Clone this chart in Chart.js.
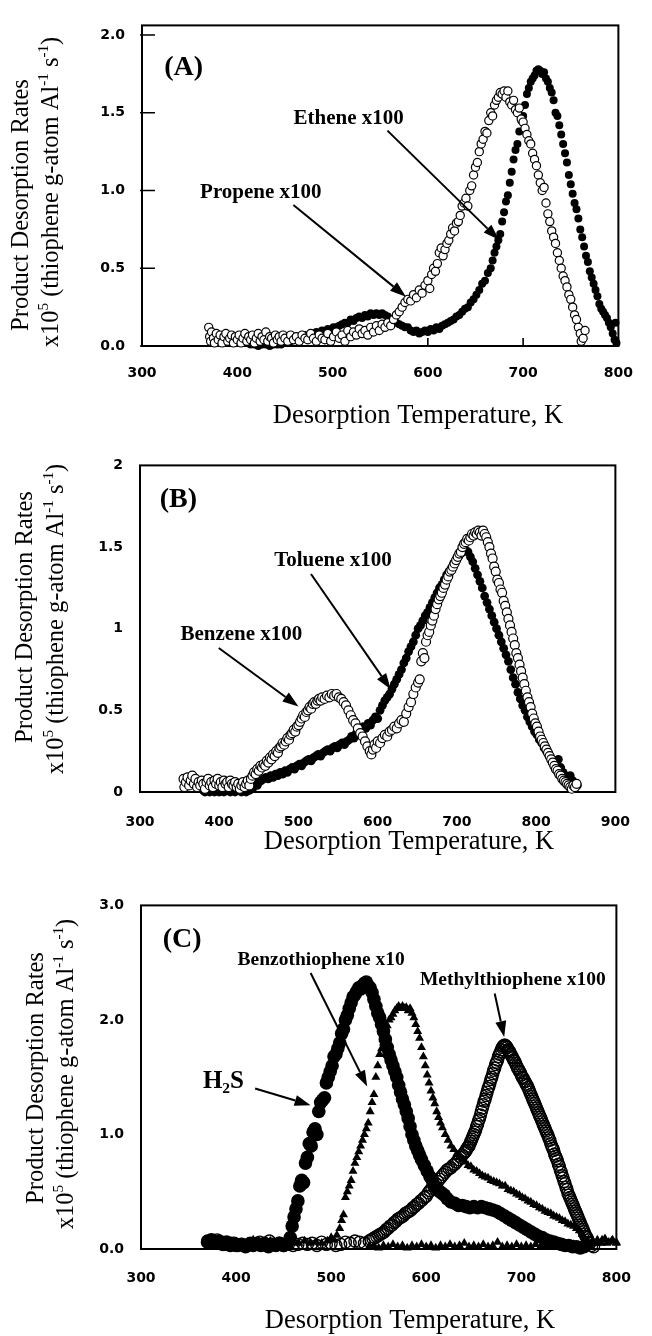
<!DOCTYPE html>
<html><head><meta charset="utf-8">
<script src="https://cdn.jsdelivr.net/npm/chart.js@4.4.0/dist/chart.umd.min.js"></script>
<style>
html,body{margin:0;padding:0;background:#fff;}
body{width:652px;height:1336px;position:relative;overflow:hidden;}
canvas{position:absolute;left:0;}
</style></head><body>
<canvas id="cA" width="652" height="440" style="top:0;width:652px;height:440px"></canvas>
<canvas id="cB" width="652" height="440" style="top:440px;width:652px;height:440px"></canvas>
<canvas id="cC" width="652" height="456" style="top:880px;width:652px;height:456px"></canvas>
<script>
// ---------- DATA ----------
// Panel A
const xTicksA = [300,400,500,600,700,800];
const xLabelsA = ['300','400','500','600','700','800'];
const yTicksA = [0,0.5,1,1.5,2];
const yLabelsA = ['0.0','0.5','1.0','1.5','2.0'];
const propene = [[370,0.12],[371,0.06],[372,0.03],[373,0.09],[375,0.05],[376,0.02],[378,0.08],[380,0.04],[382,0.07],[384,0.02],[386,0.06],[388,0.08],[390,0.03],[392,0.05],[394,0.07],[396,0.02],[398,0.06],[400,0.04],[402,0.07],[404,0.02],[406,0.05],[408,0.08],[410,0.03],[412,0.06],[414,0.04],[416,0.07],[418,0.02],[420,0.05],[422,0.08],[424,0.03],[426,0.06],[428,0.04],[430,0.09],[432,0.03],[434,0.06],[436,0.05],[438,0.02],[440,0.07],[442,0.04],[444,0.06],[446,0.03],[448,0.07],[450,0.05],[453,0.03],[456,0.07],[459,0.04],[462,0.06],[465,0.03],[468,0.07],[471,0.05],[474,0.04],[477,0.08],[480,0.05],[483,0.03],[486,0.07],[489,0.05],[492,0.04],[495,0.08],[498,0.03],[501,0.06],[504,0.09],[507,0.05],[510,0.07],[513,0.03],[516,0.1],[519,0.06],[522,0.09],[525,0.07],[528,0.11],[531,0.08],[534,0.1],[537,0.07],[540,0.12],[543,0.09],[546,0.13],[549,0.1],[552,0.14],[555,0.12],[558,0.15],[561,0.13],[564,0.17],[567,0.2],[570,0.22],[573,0.25],[576,0.28],[579,0.3],[582,0.29],[585,0.33],[588,0.31],[591,0.36],[594,0.34],[597,0.39],[600,0.42],[602,0.37],[604,0.46],[606,0.5],[608,0.48],[610,0.53],[612,0.6],[614,0.63],[616,0.58],[618,0.62],[620,0.66],[622,0.68],[624,0.72],[626,0.76],[628,0.74],[630,0.79],[632,0.8],[634,0.84],[636,0.9],[638,0.92],[640,0.95],[642,0.9],[644,1.0],[646,1.03],[648,1.1],[650,1.15],[652,1.18],[654,1.25],[656,1.3],[658,1.33],[660,1.38],[662,1.37],[664,1.45],[666,1.5],[668,1.48],[670,1.55],[672,1.58],[674,1.6],[676,1.63],[678,1.62],[680,1.64],[682,1.6],[684,1.64],[686,1.57],[688,1.55],[690,1.58],[692,1.52],[694,1.5],[696,1.53],[698,1.46],[700,1.44],[702,1.4],[704,1.36],[706,1.32],[708,1.3],[710,1.24],[712,1.2],[714,1.16],[716,1.1],[718,1.05],[720,1.0],[722,1.02],[724,0.92],[726,0.85],[728,0.8],[730,0.74],[732,0.7],[734,0.66],[736,0.6],[738,0.55],[740,0.5],[742,0.45],[744,0.42],[746,0.38],[748,0.33],[750,0.3],[752,0.25],[754,0.2],[756,0.17],[758,0.12],[760,0.08],[761,0.03],[763,0.05],[765,0.1]];
const ethene = [[412,0.02],[414,0.01],[416,0.03],[418,0.01],[420,0.02],[422,0.0],[424,0.02],[426,0.01],[428,0.03],[430,0.01],[432,0.02],[434,0.0],[436,0.02],[438,0.01],[440,0.03],[442,0.01],[444,0.02],[446,0.01],[448,0.03],[450,0.02],[453,0.04],[456,0.03],[459,0.05],[462,0.04],[465,0.06],[468,0.05],[471,0.07],[474,0.06],[477,0.08],[480,0.07],[483,0.09],[486,0.08],[489,0.1],[492,0.09],[495,0.11],[498,0.1],[501,0.12],[504,0.12],[507,0.13],[510,0.14],[513,0.15],[516,0.15],[519,0.17],[522,0.16],[525,0.18],[528,0.19],[531,0.18],[534,0.2],[537,0.19],[540,0.21],[543,0.2],[546,0.21],[549,0.2],[552,0.21],[555,0.2],[558,0.19],[561,0.17],[564,0.16],[567,0.15],[570,0.14],[573,0.13],[576,0.12],[579,0.12],[582,0.1],[585,0.09],[588,0.1],[591,0.08],[594,0.09],[597,0.1],[600,0.09],[603,0.11],[606,0.1],[609,0.12],[612,0.11],[615,0.13],[618,0.14],[621,0.15],[624,0.16],[627,0.17],[630,0.19],[633,0.2],[636,0.22],[639,0.24],[642,0.25],[645,0.28],[648,0.3],[651,0.33],[654,0.36],[657,0.4],[660,0.42],[663,0.47],[666,0.5],[668,0.55],[670,0.6],[672,0.64],[674,0.68],[676,0.72],[678,0.8],[680,0.86],[682,0.93],[684,0.97],[686,1.05],[688,1.12],[690,1.2],[692,1.26],[694,1.3],[696,1.38],[698,1.45],[700,1.48],[702,1.55],[704,1.62],[706,1.66],[708,1.7],[710,1.72],[712,1.74],[714,1.77],[716,1.78],[718,1.77],[720,1.75],[722,1.76],[724,1.72],[726,1.7],[728,1.66],[730,1.63],[732,1.58],[734,1.5],[736,1.48],[738,1.42],[740,1.36],[742,1.3],[744,1.24],[746,1.18],[748,1.1],[750,1.04],[752,0.98],[754,0.92],[756,0.88],[758,0.82],[760,0.75],[762,0.7],[764,0.64],[766,0.58],[768,0.54],[770,0.48],[772,0.44],[774,0.4],[776,0.36],[778,0.32],[780,0.27],[782,0.24],[784,0.22],[786,0.2],[788,0.18],[790,0.15],[792,0.12],[794,0.08],[796,0.04],[797,0.15],[798,0.02]];

// Panel B
const xTicksB = [300,400,500,600,700,800,900];
const xLabelsB = ['300','400','500','600','700','800','900'];
const yTicksB = [0,0.5,1,1.5,2];
const yLabelsB = ['0','0.5','1','1.5','2'];
const benzene = [[355,0.08],[356,0.03],[358,0.06],[360,0.09],[362,0.04],[364,0.07],[366,0.1],[368,0.05],[370,0.08],[372,0.03],[374,0.06],[376,0.04],[378,0.07],[380,0.05],[382,0.02],[384,0.06],[386,0.08],[388,0.04],[390,0.06],[392,0.03],[394,0.07],[396,0.05],[398,0.08],[400,0.04],[402,0.06],[404,0.03],[406,0.07],[408,0.05],[410,0.06],[412,0.03],[414,0.07],[416,0.05],[418,0.04],[420,0.06],[422,0.03],[424,0.05],[426,0.02],[428,0.04],[430,0.06],[432,0.03],[434,0.05],[436,0.07],[438,0.04],[440,0.08],[442,0.1],[444,0.12],[446,0.11],[448,0.14],[450,0.13],[452,0.16],[454,0.15],[456,0.17],[458,0.16],[460,0.19],[462,0.18],[464,0.21],[466,0.2],[468,0.23],[470,0.22],[472,0.25],[474,0.24],[476,0.27],[478,0.28],[480,0.3],[482,0.29],[484,0.31],[486,0.33],[488,0.32],[490,0.35],[492,0.36],[494,0.38],[496,0.37],[498,0.4],[500,0.41],[502,0.43],[504,0.45],[506,0.47],[508,0.46],[510,0.49],[512,0.5],[514,0.52],[516,0.51],[518,0.54],[520,0.55],[522,0.54],[524,0.56],[526,0.57],[528,0.56],[530,0.58],[533,0.57],[536,0.59],[539,0.58],[542,0.6],[545,0.59],[548,0.6],[551,0.58],[554,0.57],[557,0.55],[560,0.53],[563,0.5],[566,0.47],[569,0.44],[572,0.42],[575,0.39],[578,0.36],[581,0.34],[584,0.31],[587,0.28],[590,0.25],[592,0.23],[594,0.26],[596,0.29],[598,0.27],[600,0.31],[603,0.3],[606,0.33],[609,0.35],[612,0.34],[615,0.37],[618,0.38],[621,0.4],[624,0.39],[627,0.42],[630,0.44],[633,0.43],[636,0.48],[639,0.52],[642,0.55],[645,0.6],[648,0.64],[651,0.67],[653,0.69],[655,0.8],[657,0.85],[659,0.82],[661,0.92],[663,0.96],[665,0.98],[667,1.02],[669,1.05],[671,1.08],[673,1.12],[675,1.15],[677,1.18],[679,1.2],[681,1.22],[683,1.25],[685,1.27],[687,1.3],[689,1.32],[691,1.35],[693,1.36],[695,1.38],[697,1.4],[699,1.42],[701,1.44],[703,1.46],[705,1.47],[707,1.5],[709,1.52],[711,1.53],[713,1.55],[715,1.54],[717,1.56],[719,1.58],[721,1.57],[723,1.59],[725,1.58],[727,1.6],[729,1.59],[731,1.57],[733,1.6],[735,1.58],[737,1.56],[739,1.53],[741,1.5],[743,1.46],[745,1.43],[747,1.38],[749,1.35],[751,1.3],[753,1.28],[755,1.24],[757,1.22],[759,1.17],[761,1.14],[763,1.1],[765,1.06],[767,1.02],[769,0.98],[771,0.94],[773,0.9],[775,0.85],[777,0.82],[779,0.78],[781,0.74],[783,0.7],[785,0.66],[787,0.62],[789,0.58],[791,0.55],[793,0.52],[795,0.48],[797,0.45],[799,0.42],[801,0.4],[803,0.37],[805,0.34],[807,0.32],[809,0.3],[811,0.28],[813,0.26],[815,0.24],[817,0.22],[819,0.2],[821,0.18],[823,0.16],[825,0.14],[827,0.13],[829,0.11],[831,0.1],[833,0.08],[835,0.07],[837,0.06],[839,0.05],[841,0.04],[843,0.03],[845,0.02],[847,0.04],[849,0.03],[851,0.05]];
const toluene = [[380,0.01],[382,0.0],[384,0.02],[386,0.01],[388,0.0],[390,0.02],[392,0.01],[394,0.0],[396,0.01],[398,0.02],[400,0.0],[402,0.01],[404,0.02],[406,0.0],[408,0.01],[410,0.02],[412,0.01],[414,0.0],[416,0.02],[418,0.01],[420,0.0],[422,0.01],[424,0.02],[426,0.01],[428,0.0],[430,0.02],[432,0.01],[434,0.0],[436,0.02],[438,0.01],[440,0.03],[442,0.02],[444,0.04],[446,0.05],[448,0.04],[450,0.06],[453,0.07],[456,0.08],[459,0.09],[462,0.08],[465,0.1],[468,0.09],[471,0.11],[474,0.1],[477,0.12],[480,0.11],[483,0.13],[486,0.12],[489,0.14],[492,0.15],[495,0.14],[498,0.16],[501,0.17],[504,0.16],[507,0.18],[510,0.19],[513,0.2],[516,0.19],[519,0.21],[522,0.22],[525,0.23],[528,0.22],[531,0.24],[534,0.25],[537,0.26],[540,0.25],[543,0.27],[546,0.28],[549,0.27],[552,0.29],[555,0.3],[558,0.29],[561,0.31],[564,0.32],[567,0.34],[570,0.33],[573,0.36],[576,0.35],[579,0.38],[582,0.4],[585,0.39],[588,0.42],[591,0.41],[594,0.44],[597,0.46],[600,0.45],[603,0.5],[606,0.53],[609,0.56],[612,0.58],[615,0.6],[618,0.63],[621,0.66],[624,0.69],[627,0.72],[630,0.75],[633,0.79],[636,0.82],[639,0.86],[642,0.89],[645,0.92],[648,0.96],[651,1.0],[654,1.02],[657,1.05],[660,1.08],[663,1.1],[666,1.13],[669,1.16],[672,1.19],[675,1.22],[678,1.25],[681,1.27],[684,1.3],[687,1.33],[690,1.35],[693,1.37],[696,1.4],[699,1.42],[702,1.44],[705,1.46],[708,1.47],[711,1.48],[714,1.47],[717,1.44],[720,1.41],[723,1.37],[726,1.33],[729,1.29],[732,1.25],[735,1.2],[738,1.16],[741,1.12],[744,1.08],[747,1.04],[750,1.0],[753,0.96],[756,0.92],[759,0.88],[762,0.84],[765,0.8],[768,0.75],[771,0.7],[774,0.66],[777,0.61],[780,0.57],[783,0.53],[786,0.5],[789,0.46],[792,0.43],[795,0.4],[798,0.37],[801,0.35],[804,0.32],[807,0.3],[810,0.27],[813,0.25],[816,0.23],[819,0.2],[822,0.19],[825,0.18],[828,0.2],[831,0.15],[834,0.12],[837,0.1],[840,0.09],[843,0.1],[846,0.07],[849,0.05],[852,0.04]];

// Panel C
const xTicksC = [300,400,500,600,700,800];
const xLabelsC = ['300','400','500','600','700','800'];
const yTicksC = [0,1,2,3];
const yLabelsC = ['0.0','1.0','2.0','3.0'];
const h2s = [[370,0.06],[374,0.08],[378,0.05],[382,0.07],[386,0.04],[390,0.06],[394,0.03],[398,0.05],[402,0.03],[406,0.04],[410,0.02],[414,0.04],[418,0.03],[422,0.05],[426,0.03],[430,0.04],[434,0.02],[438,0.04],[442,0.03],[446,0.05],[450,0.03],[454,0.05],[457,0.1],[459,0.2],[461,0.28],[463,0.35],[465,0.42],[467,0.55],[469,0.6],[471,0.58],[473,0.75],[475,0.8],[477,0.92],[479,0.9],[481,1.02],[483,1.05],[485,1.0],[487,1.2],[489,1.28],[491,1.3],[493,1.32],[495,1.45],[497,1.5],[499,1.55],[501,1.6],[503,1.68],[505,1.7],[507,1.75],[509,1.8],[511,1.88],[513,1.92],[515,2.0],[517,2.04],[519,2.1],[521,2.15],[523,2.2],[525,2.22],[527,2.25],[529,2.28],[531,2.27],[533,2.3],[535,2.32],[537,2.33],[539,2.3],[541,2.28],[543,2.24],[545,2.18],[547,2.12],[549,2.06],[551,2.02],[553,1.96],[555,1.9],[557,1.83],[559,1.76],[561,1.7],[563,1.65],[565,1.6],[567,1.55],[569,1.5],[571,1.43],[573,1.37],[575,1.31],[577,1.26],[579,1.2],[581,1.14],[583,1.07],[585,1.0],[587,0.95],[589,0.9],[591,0.86],[593,0.82],[595,0.78],[598,0.73],[601,0.68],[604,0.63],[607,0.58],[610,0.54],[613,0.51],[616,0.49],[619,0.47],[622,0.44],[626,0.41],[630,0.4],[634,0.38],[638,0.38],[642,0.37],[646,0.36],[650,0.37],[654,0.36],[658,0.37],[662,0.36],[666,0.35],[670,0.34],[674,0.33],[678,0.31],[682,0.29],[686,0.27],[690,0.25],[694,0.23],[698,0.21],[702,0.19],[706,0.17],[710,0.15],[714,0.13],[718,0.11],[722,0.1],[726,0.08],[730,0.07],[734,0.06],[738,0.05],[742,0.04],[746,0.03],[750,0.03],[754,0.02],[758,0.02],[762,0.01],[766,0.02]];
const benzothiophene = [[370,0.05],[376,0.03],[382,0.06],[388,0.04],[394,0.03],[400,0.05],[406,0.04],[412,0.06],[418,0.08],[424,0.05],[430,0.04],[436,0.07],[442,0.05],[448,0.06],[454,0.04],[460,0.06],[466,0.05],[472,0.07],[478,0.05],[484,0.06],[490,0.05],[496,0.07],[500,0.1],[503,0.08],[506,0.12],[509,0.18],[511,0.25],[513,0.3],[515,0.45],[517,0.5],[519,0.55],[521,0.6],[523,0.68],[525,0.75],[527,0.8],[529,0.85],[531,0.9],[533,0.95],[535,1.0],[537,1.05],[539,1.1],[541,1.2],[543,1.28],[545,1.35],[547,1.5],[549,1.6],[551,1.7],[553,1.75],[555,1.8],[557,1.88],[559,1.95],[561,2.0],[563,2.02],[565,2.05],[567,2.08],[569,2.1],[571,2.12],[573,2.1],[575,2.12],[577,2.1],[579,2.11],[581,2.08],[583,2.1],[585,2.06],[587,2.02],[589,1.96],[591,1.9],[593,1.84],[595,1.76],[597,1.68],[599,1.6],[601,1.52],[603,1.45],[605,1.38],[607,1.32],[609,1.27],[611,1.2],[613,1.15],[615,1.1],[617,1.06],[620,1.0],[623,0.95],[626,0.9],[629,0.87],[632,0.83],[635,0.8],[638,0.78],[641,0.76],[644,0.73],[647,0.72],[650,0.69],[653,0.68],[656,0.66],[659,0.64],[662,0.63],[665,0.62],[668,0.6],[671,0.59],[674,0.58],[677,0.57],[680,0.55],[683,0.55],[686,0.52],[689,0.51],[692,0.5],[695,0.48],[698,0.47],[701,0.45],[704,0.44],[707,0.42],[710,0.41],[713,0.39],[716,0.38],[719,0.36],[722,0.35],[725,0.33],[728,0.32],[731,0.31],[734,0.29],[737,0.28],[740,0.27],[743,0.25],[746,0.24],[749,0.22],[752,0.21],[755,0.2],[758,0.18],[761,0.16],[764,0.13],[767,0.09],[770,0.05],[773,0.02],[776,0.05],[780,0.08],[784,0.05],[788,0.09],[792,0.06],[796,0.08],[800,0.05]];
const benzothiopheneLow = [[540,0.02],[545,0.03],[550,0.01],[555,0.03],[560,0.02],[565,0.04],[570,0.02],[575,0.03],[580,0.01],[585,0.03],[590,0.02],[595,0.04],[600,0.02],[605,0.03],[610,0.01],[615,0.03],[620,0.02],[625,0.04],[630,0.02],[635,0.03],[640,0.05],[645,0.02],[650,0.03],[655,0.02],[660,0.04],[665,0.02],[670,0.03],[675,0.06],[680,0.02],[685,0.03],[690,0.02],[695,0.04],[700,0.02],[705,0.03],[710,0.02],[715,0.04],[720,0.02],[725,0.03],[730,0.02],[735,0.04],[740,0.02],[745,0.03],[750,0.02],[755,0.04],[760,0.03],[765,0.05],[770,0.04],[775,0.07],[780,0.05],[785,0.08],[790,0.05],[795,0.07],[800,0.06]];
const methylthiophene = [[370,0.07],[375,0.05],[380,0.08],[385,0.06],[390,0.04],[395,0.05],[400,0.03],[405,0.04],[410,0.03],[415,0.05],[420,0.04],[425,0.06],[430,0.05],[435,0.07],[440,0.04],[445,0.05],[450,0.03],[455,0.04],[460,0.03],[465,0.04],[470,0.05],[475,0.04],[480,0.05],[485,0.03],[490,0.06],[495,0.04],[500,0.05],[505,0.03],[510,0.04],[515,0.06],[520,0.05],[525,0.07],[530,0.06],[535,0.05],[540,0.07],[542,0.08],[544,0.09],[546,0.1],[548,0.11],[550,0.12],[552,0.13],[554,0.14],[556,0.15],[558,0.17],[560,0.18],[562,0.2],[564,0.21],[566,0.23],[568,0.24],[570,0.26],[572,0.27],[574,0.28],[576,0.29],[578,0.31],[580,0.32],[582,0.33],[584,0.34],[586,0.36],[588,0.37],[590,0.39],[592,0.4],[594,0.42],[596,0.43],[598,0.45],[600,0.46],[602,0.49],[604,0.51],[606,0.53],[608,0.55],[610,0.57],[612,0.59],[614,0.61],[616,0.63],[618,0.65],[620,0.67],[622,0.69],[624,0.7],[626,0.71],[628,0.73],[630,0.74],[632,0.76],[634,0.78],[636,0.8],[638,0.82],[640,0.84],[641,0.85],[642,0.86],[643,0.88],[644,0.89],[645,0.9],[646,0.92],[647,0.94],[648,0.96],[649,0.98],[650,1.0],[651,1.02],[652,1.04],[653,1.07],[654,1.09],[655,1.12],[656,1.14],[657,1.17],[658,1.2],[659,1.23],[660,1.26],[661,1.29],[662,1.31],[663,1.34],[664,1.37],[665,1.4],[666,1.42],[667,1.45],[668,1.48],[669,1.5],[670,1.53],[671,1.56],[672,1.58],[673,1.61],[674,1.63],[675,1.65],[676,1.68],[677,1.7],[678,1.72],[679,1.74],[680,1.76],[681,1.77],[682,1.78],[683,1.78],[684,1.77],[685,1.76],[686,1.74],[687,1.73],[688,1.72],[689,1.7],[690,1.68],[691,1.67],[692,1.65],[693,1.64],[694,1.62],[695,1.6],[696,1.58],[697,1.57],[698,1.55],[699,1.54],[700,1.52],[701,1.5],[702,1.49],[703,1.47],[704,1.46],[705,1.44],[706,1.43],[707,1.41],[708,1.39],[709,1.37],[710,1.35],[711,1.33],[712,1.31],[713,1.29],[714,1.27],[715,1.25],[716,1.23],[717,1.21],[718,1.19],[719,1.17],[720,1.15],[721,1.13],[722,1.11],[723,1.09],[724,1.07],[725,1.05],[726,1.03],[727,1.01],[728,0.99],[729,0.97],[730,0.95],[731,0.92],[732,0.9],[733,0.88],[734,0.86],[735,0.83],[736,0.81],[737,0.79],[738,0.77],[739,0.74],[740,0.72],[741,0.69],[742,0.67],[743,0.64],[744,0.62],[745,0.59],[746,0.57],[747,0.54],[748,0.52],[749,0.49],[750,0.47],[751,0.45],[752,0.43],[753,0.41],[754,0.39],[755,0.37],[756,0.35],[757,0.33],[758,0.31],[759,0.29],[760,0.27],[761,0.25],[762,0.23],[763,0.21],[764,0.19],[765,0.17],[766,0.15],[767,0.13],[768,0.11],[769,0.1],[770,0.08],[771,0.06],[772,0.05],[774,0.03],[776,0.02]];

// ---------- RENDERING ----------
const SERIF = "'Liberation Serif','Times New Roman',serif";
const tickFont = {family:"'DejaVu Sans', sans-serif", weight:'bold', size:14};
const xTitle = [{t:'Desorption Temperature, K'}];
const yTitle1 = [{t:'Product Desorption Rates'}];
const yTitle2 = [{t:'x10'},{t:'5',s:'sup'},{t:' (thiophene g-atom Al'},{t:'-1',s:'sup'},{t:' s'},{t:'-1',s:'sup'},{t:')'}];

function pts(arr){ return arr.map(p => ({x:p[0], y:p[1]})); }
function ds(label, arr, st){
  return Object.assign({label, data:pts(arr), showLine:false, clip:false, pointHoverRadius:st.pointRadius}, st);
}
function fontStr(size, bold){ return (bold?'bold ':'') + size + 'px ' + SERIF; }
function drawRich(ctx, parts, x, y, size, bold, align){
  let w = 0;
  parts.forEach(p => { ctx.font = fontStr(p.s ? size*0.62 : size, bold); w += ctx.measureText(p.t).width; });
  let cx = align === 'center' ? x - w/2 : (align === 'right' ? x - w : x);
  ctx.textAlign = 'left'; ctx.textBaseline = 'alphabetic';
  parts.forEach(p => {
    const fs = p.s ? size*0.62 : size;
    ctx.font = fontStr(fs, bold);
    const dy = p.s === 'sup' ? -size*0.4 : (p.s === 'sub' ? size*0.2 : 0);
    ctx.fillText(p.t, cx, y + dy);
    cx += ctx.measureText(p.t).width;
  });
}
function arrow(ctx, x1, y1, x2, y2){
  const ang = Math.atan2(y2-y1, x2-x1), L = 16, hw = 5.5;
  const bx = x2 - L*Math.cos(ang), by = y2 - L*Math.sin(ang);
  ctx.beginPath(); ctx.moveTo(x1,y1); ctx.lineTo(bx,by); ctx.lineWidth = 2; ctx.stroke();
  ctx.beginPath();
  ctx.moveTo(x2,y2);
  ctx.lineTo(bx + hw*Math.sin(ang), by - hw*Math.cos(ang));
  ctx.lineTo(bx - hw*Math.sin(ang), by + hw*Math.cos(ang));
  ctx.closePath(); ctx.fill();
}
function decor(g){
  return {
    id:'decor',
    beforeDatasetsDraw(chart){
      const ctx = chart.ctx, a = chart.chartArea;
      ctx.save();
      ctx.strokeStyle = '#000'; ctx.lineWidth = 2;
      ctx.strokeRect(a.left, a.top, a.right-a.left, a.bottom-a.top);
      if (g.innerTicks){
        const xs = chart.scales.x, ys = chart.scales.y;
        ctx.beginPath();
        g.yTicks.forEach(v => { const y = ys.getPixelForValue(v); ctx.moveTo(a.left-2, y); ctx.lineTo(a.left+13, y); });
        g.xTicks.forEach(v => { const x = xs.getPixelForValue(v); ctx.moveTo(x, a.bottom); ctx.lineTo(x, a.bottom-8); });
        ctx.lineWidth = 1.6; ctx.stroke();
      }
      ctx.restore();
    },
    afterDraw(chart){
      const ctx = chart.ctx, xs = chart.scales.x, ys = chart.scales.y;
      ctx.save();
      ctx.fillStyle = '#000'; ctx.strokeStyle = '#000';
      drawRich(ctx, xTitle, g.xt[0], g.xt[1], 26.5, false, 'center');
      [[yTitle1, g.yt1],[yTitle2, g.yt2]].forEach(([parts, p]) => {
        ctx.save(); ctx.translate(p[0], p[1]); ctx.rotate(-Math.PI/2);
        drawRich(ctx, parts, 0, 0, 24.5, false, 'center');
        ctx.restore();
      });
      g.notes.forEach(n => {
        drawRich(ctx, n.parts, xs.getPixelForValue(n.x), ys.getPixelForValue(n.y), n.size, true, 'center');
      });
      g.arrows.forEach(r => {
        arrow(ctx, xs.getPixelForValue(r[0]), ys.getPixelForValue(r[1]), xs.getPixelForValue(r[2]), ys.getPixelForValue(r[3]));
      });
      ctx.restore();
    }
  };
}
function makeChart(id, g){
  const cv = document.getElementById(id), H = cv.height;
  return new Chart(cv, {
    type:'scatter',
    data:{datasets:g.datasets},
    options:{
      responsive:false, animation:false, devicePixelRatio:1, events:[],
      layout:{padding:{left:0, top:g.top, right:652-g.right, bottom:0}},
      plugins:{legend:{display:false}, tooltip:{enabled:false}},
      scales:{
        x:{type:'linear', position:'bottom', min:g.xMin, max:g.xMax,
          afterBuildTicks: s => { s.ticks = g.xTicks.map(v => ({value:v})); },
          afterFit: s => { s.height = H - g.bottom; },
          grid:{display:false, drawTicks:false}, border:{display:false},
          ticks:{padding:g.xPad, color:'#000', font:tickFont, maxRotation:0, autoSkip:false, callback:(v,i) => g.xLabels[i]}},
        y:{type:'linear', position:'left', min:g.yMin, max:g.yMax,
          afterBuildTicks: s => { s.ticks = g.yTicks.map(v => ({value:v})); },
          afterFit: s => { s.width = g.left; },
          grid:{display:false, drawTicks:false}, border:{display:false},
          ticks:{padding:17, color:'#000', font:tickFont, autoSkip:false, callback:(v,i) => g.yLabels[i]}}
      }
    },
    plugins:[decor(g)]
  });
}

const openA = {pointStyle:'circle', pointRadius:4.1, pointBackgroundColor:'#fff', pointBorderColor:'#000', pointBorderWidth:1.2};
const fillA = {pointStyle:'circle', pointRadius:4.0, pointBackgroundColor:'#000', pointBorderColor:'#000', pointBorderWidth:0};
const openB = Object.assign({}, openA, {pointRadius:4.5});
const fillB = Object.assign({}, fillA, {pointRadius:4.4});
const triC = {pointStyle:'triangle', pointRadius:5.2, pointBackgroundColor:'#000', pointBorderColor:'#000', pointBorderWidth:0};

makeChart('cA', {
  left:142, right:633, top:14, bottom:346, xMin:300, xMax:800, yMin:0, yMax:2.062,
  xTicks:xTicksA, xLabels:xLabelsA, yTicks:yTicksA, yLabels:yLabelsA, xPad:19, innerTicks:true,
  xt:[418,423], yt1:[28,205], yt2:[58,192],
  datasets:[ds('Propene x100', propene, openA), ds('Ethene x100', ethene, fillA)],
  notes:[
    {parts:[{t:'(A)'}], x:343.8, y:1.745, size:28},
    {parts:[{t:'Ethene x100'}], x:516.9, y:1.429, size:21},
    {parts:[{t:'Propene x100'}], x:424.7, y:0.95, size:21}
  ],
  arrows:[[557.6,1.385,674.7,0.683],[458.9,0.907,577,0.317]]
});

makeChart('cB', {
  left:140, right:635, top:12, bottom:352, xMin:300, xMax:900, yMin:0, yMax:2,
  xTicks:xTicksB, xLabels:xLabelsB, yTicks:yTicksB, yLabels:yLabelsB, xPad:22, innerTicks:false,
  xt:[409,409], yt1:[32,177], yt2:[63,179],
  datasets:[ds('Benzene x100', benzene, openB), ds('Toluene x100', toluene, fillB)],
  notes:[
    {parts:[{t:'(B)'}], x:348.5, y:1.747, size:28},
    {parts:[{t:'Toluene x100'}], x:543.6, y:1.382, size:21},
    {parts:[{t:'Benzene x100'}], x:427.9, y:0.929, size:21}
  ],
  arrows:[[515.8,1.335,616.4,0.629],[399.4,0.882,500,0.524]]
});

makeChart('cC', {
  left:141, right:637, top:17, bottom:369, xMin:300, xMax:800, yMin:0, yMax:3,
  xTicks:xTicksC, xLabels:xLabelsC, yTicks:yTicksC, yLabels:yLabelsC, xPad:21, innerTicks:false,
  xt:[410,448], yt1:[43,198], yt2:[73,194],
  datasets:[
    ds('Benzothiophene x10', benzothiophene, triC),
    ds('Benzothiophene x10 (baseline)', benzothiopheneLow, triC),
    ds('H2S', h2s, {pointStyle:'circle', pointRadius:6.8, pointBackgroundColor:'#000', pointBorderColor:'#000', pointBorderWidth:0}),
    ds('Methylthiophene x100', methylthiophene, {pointStyle:'circle', pointRadius:6, pointBackgroundColor:'rgba(255,255,255,0)', pointBorderColor:'#000', pointBorderWidth:1.4})
  ],
  notes:[
    {parts:[{t:'(C)'}], x:343.3, y:2.641, size:28},
    {parts:[{t:'Benzothiophene x10'}], x:489.5, y:2.479, size:19.5},
    {parts:[{t:'Methylthiophene x100'}], x:691.1, y:2.308, size:19.5},
    {parts:[{t:'H'},{t:'2',s:'sub'},{t:'S'}], x:386.7, y:1.41, size:25}
  ],
  arrows:[[478.4,2.41,537.9,1.419],[672,2.231,682,1.85],[420,1.402,478.4,1.256]]
});
</script>
</body></html>
